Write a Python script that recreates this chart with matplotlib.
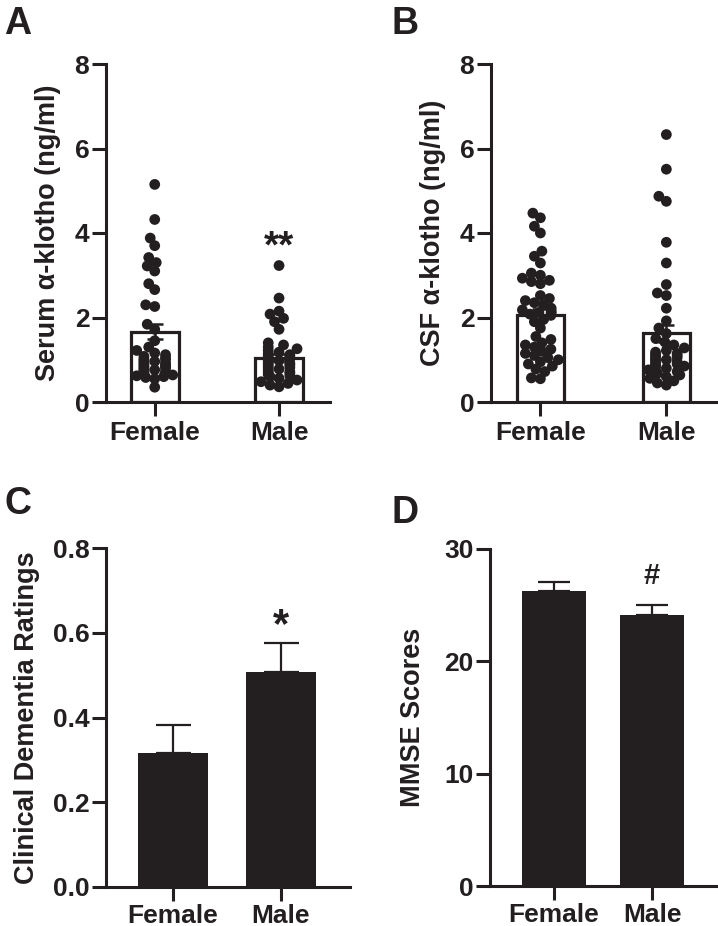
import numpy as np
import matplotlib
matplotlib.use("Agg")
import matplotlib.pyplot as plt

plt.rcParams['font.family'] = ['Liberation Sans', 'DejaVu Sans']
plt.rcParams['font.weight'] = 'bold'

INK = '#231f20'

groups = ['Female', 'Male']

# Panel A - serum alpha-klotho (ng/ml)
serum_female = [5.15, 4.32, 3.88, 3.70, 3.42, 3.30, 3.22, 3.10, 2.80, 2.66, 2.30, 2.26,
                1.84, 1.72, 1.45, 1.30, 1.22, 1.16, 1.12, 1.08, 1.05, 1.02, 1.00, 0.98,
                0.96, 0.94, 0.92, 0.90, 0.88, 0.86, 0.84, 0.82, 0.80, 0.78, 0.76, 0.74,
                0.72, 0.70, 0.68, 0.66, 0.64, 0.62, 0.60, 0.58, 0.55, 0.35]
serum_male = [3.23, 2.46, 2.15, 2.08, 1.98, 1.90, 1.72, 1.40, 1.35, 1.30, 1.26, 1.22,
              1.18, 1.15, 1.12, 1.10, 1.08, 1.05, 1.02, 1.00, 0.98, 0.95, 0.92, 0.90,
              0.88, 0.85, 0.82, 0.80, 0.78, 0.75, 0.72, 0.70, 0.68, 0.65, 0.62, 0.60,
              0.56, 0.52, 0.48, 0.44, 0.40, 0.36]
serum_mean = [1.66, 1.05]
serum_sem = [0.18, 0.09]

# Panel B - CSF alpha-klotho (ng/ml)
csf_female = [4.47, 4.36, 4.16, 4.00, 3.57, 3.45, 3.29, 3.05, 3.00, 2.93, 2.88, 2.85,
              2.80, 2.52, 2.45, 2.40, 2.35, 2.30, 2.22, 2.18, 2.15, 2.12, 2.10, 2.08,
              2.05, 1.95, 1.90, 1.75, 1.55, 1.48, 1.40, 1.35, 1.30, 1.25, 1.20, 1.15,
              1.10, 1.05, 1.00, 0.95, 0.90, 0.85, 0.78, 0.72, 0.57, 0.55]
csf_male = [6.33, 5.51, 4.87, 4.75, 3.78, 3.29, 2.78, 2.58, 2.52, 2.22, 1.92, 1.75,
            1.62, 1.50, 1.42, 1.35, 1.28, 1.22, 1.18, 1.15, 1.12, 1.10, 1.08, 1.05,
            1.02, 1.00, 0.98, 0.95, 0.92, 0.90, 0.88, 0.85, 0.82, 0.80, 0.76, 0.72,
            0.68, 0.64, 0.60, 0.56, 0.50, 0.45, 0.40]
csf_mean = [2.07, 1.63]
csf_sem = [0.13, 0.20]

# Panel C - clinical dementia ratings
cdr_mean = [0.316, 0.508]
cdr_sem = [0.066, 0.067]

# Panel D - MMSE scores
mmse_mean = [26.3, 24.1]
mmse_sem = [0.8, 0.9]

fig = plt.figure(figsize=(7.18, 9.26), dpi=100)
W, H = 718, 926
FS = 19


def make_ax(left, right, top, bottom):
    return fig.add_axes([left / W, 1 - bottom / H, (right - left) / W, (bottom - top) / H])


def style(ax, ylabel, label_x, xpad=4):
    for s in ['top', 'right']:
        ax.spines[s].set_visible(False)
    for s in ['left', 'bottom']:
        ax.spines[s].set_linewidth(2.2)
        ax.spines[s].set_color(INK)
    ax.tick_params(axis='both', direction='out', length=10, width=2.2, color=INK,
                   labelsize=FS, labelcolor=INK)
    ax.tick_params(axis='y', pad=2)
    ax.tick_params(axis='x', pad=xpad)
    ax.set_xticks([0, 1])
    ax.set_xticklabels(groups, fontweight='bold')
    for t in ax.get_yticklabels():
        t.set_fontweight('bold')
    ax.set_ylabel(ylabel, fontsize=19.5, fontweight='bold', color=INK)
    ax.yaxis.set_label_coords(label_x, 0.5)


def swarm(ax, xc, values, max_off_px):
    # simple deterministic beeswarm in pixel space
    diam = 10.5
    to_px = ax.transData
    placed = []
    xs, ys = [], []
    for v in sorted(values):
        px, py = to_px.transform((xc, v))
        best = None
        for k in range(0, 40):
            for sign in ([1] if k == 0 else [-1, 1]):
                off = sign * k * 1.5
                if abs(off) > max_off_px:
                    continue
                ok = all((px + off - qx) ** 2 + (py - qy) ** 2 >= (diam * 0.8) ** 2
                         for qx, qy in placed)
                if ok:
                    best = off
                    break
            if best is not None:
                break
        if best is None:
            best = max_off_px * (1 if len(placed) % 2 else -1) * 0.6
        placed.append((px + best, py))
        dx, dy = to_px.inverted().transform((px + best, py))
        xs.append(dx)
        ys.append(dy)
    ax.scatter(xs, ys, s=60, color=INK, edgecolors='none', zorder=3)


def scatter_panel(ax, female, male, means, sems, width):
    ax.set_xlim(-0.392, 1.41)
    ax.set_ylim(0, 8)
    ax.set_yticks([0, 2, 4, 6, 8])
    ax.bar([0, 1], means, width=width, color='white', edgecolor=INK,
           linewidth=2.3, zorder=2)
    fig.canvas.draw()
    swarm(ax, 0, female, 18)
    swarm(ax, 1, male, 18)
    ax.errorbar([0, 1], means, yerr=sems, fmt='none', ecolor=INK, elinewidth=1.8,
                capsize=6, capthick=1.8, zorder=4)


# A
axA = make_ax(106, 330, 64, 402)
scatter_panel(axA, serum_female, serum_male, serum_mean, serum_sem, 0.384)
style(axA, 'Serum α-klotho (ng/ml)', -0.20)
axA.text(1, 3.65, '**', ha='center', va='center', fontsize=28, fontweight='bold', color=INK)

# B
axB = make_ax(491, 718, 64, 402)
scatter_panel(axB, csf_female, csf_male, csf_mean, csf_sem, 0.376)
style(axB, 'CSF α-klotho (ng/ml)', -0.20)

# C
axC = make_ax(106, 350, 548, 887)
axC.set_xlim(-0.62, 1.64)
axC.set_ylim(0, 0.8)
axC.set_yticks([0, 0.2, 0.4, 0.6, 0.8])
axC.bar([0, 1], cdr_mean, width=0.648, color=INK, zorder=2)
axC.errorbar([0, 1], cdr_mean, yerr=[[0, 0], cdr_sem], fmt='none', ecolor=INK,
             elinewidth=1.6, capsize=12.6, capthick=1.6, zorder=1)
style(axC, 'Clinical Dementia Ratings', -0.27, xpad=2)
axC.yaxis.set_major_formatter(matplotlib.ticker.FormatStrFormatter('%.1f'))
axC.text(1, 0.615, '*', ha='center', va='center', fontsize=30, fontweight='bold', color=INK)

# D
axD = make_ax(490, 718, 549, 886)
axD.set_xlim(-0.653, 1.673)
axD.set_ylim(0, 30)
axD.set_yticks([0, 10, 20, 30])
axD.bar([0, 1], mmse_mean, width=0.653, color=INK, zorder=2)
axD.errorbar([0, 1], mmse_mean, yerr=[[0, 0], mmse_sem], fmt='none', ecolor=INK,
             elinewidth=1.6, capsize=11.5, capthick=1.6, zorder=1)
style(axD, 'MMSE Scores', -0.28, xpad=2)
axD.text(1, 27.6, '#', ha='center', va='center', fontsize=21, fontweight='bold', color=INK)

# panel letters
for letter, x, y in [('A', 4, 6), ('B', 392, 6), ('C', 4, 486), ('D', 392, 495)]:
    fig.text(x / W, 1 - y / H, letter, ha='left', va='top', fontsize=27,
             fontweight='bold', color=INK)

fig.savefig('out.png', dpi=100)
